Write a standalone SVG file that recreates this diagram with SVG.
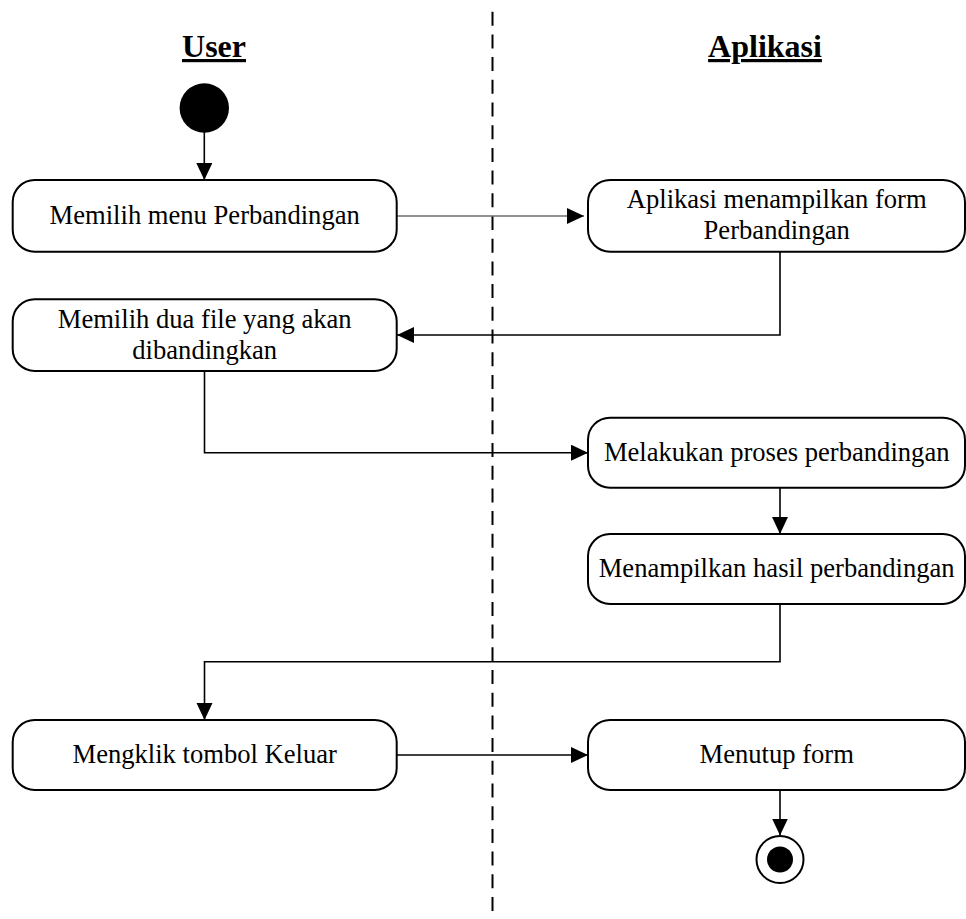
<svg xmlns="http://www.w3.org/2000/svg" width="966" height="919" viewBox="0 0 966 919">
  <style>
    .act { fill: #ffffff; stroke: #000000; stroke-width: 2; }
    .lbl { font-family: "Liberation Serif", "Times New Roman", serif; font-size: 26.6px; fill: #000000; text-anchor: middle; }
    .lane { font-family: "Liberation Serif", "Times New Roman", serif; font-size: 32px; font-weight: bold; fill: #000000; text-anchor: middle; text-decoration: underline; }
    .flow { fill: none; stroke: #000000; stroke-width: 1.6; }
    .flow-grey { fill: none; stroke: #6e6e6e; stroke-width: 1.6; }
    .divider { stroke: #000000; stroke-width: 2; stroke-dasharray: 14 8.7; }
  </style>
  <defs>
    <marker id="arrow" markerUnits="userSpaceOnUse" markerWidth="18" markerHeight="17" refX="17" refY="8" orient="auto">
      <path d="M0,0 L17,8 L0,16 z" fill="#000000"/>
    </marker>
  </defs>

  <rect width="966" height="919" fill="#ffffff"/>

  <!-- swimlane divider -->
  <line class="divider" x1="492.5" y1="11.7" x2="492.5" y2="919"/>

  <!-- swimlane headers -->
  <text class="lane" x="214" y="57">User</text>
  <text class="lane" x="765" y="57">Aplikasi</text>

  <!-- connectors -->
  <g id="connectors">
    <line class="flow" x1="204.3" y1="132" x2="204.3" y2="180" marker-end="url(#arrow)"/>
    <line class="flow-grey" x1="397" y1="216" x2="584" y2="216" marker-end="url(#arrow)"/>
    <polyline class="flow" points="780,252 780,335 397,335" marker-end="url(#arrow)"/>
    <polyline class="flow" points="204.5,371 204.5,452.7 588,452.7" marker-end="url(#arrow)"/>
    <line class="flow" x1="780" y1="488" x2="780" y2="534" marker-end="url(#arrow)"/>
    <polyline class="flow" points="780,604 780,661.7 204.5,661.7 204.5,720" marker-end="url(#arrow)"/>
    <line class="flow" x1="397" y1="755" x2="588" y2="755" marker-end="url(#arrow)"/>
    <line class="flow" x1="780" y1="790" x2="780" y2="835.5" marker-end="url(#arrow)"/>
  </g>

  <!-- initial node -->
  <g id="start">
    <circle cx="204.3" cy="108" r="24.7" fill="#000000"/>
  </g>

  <g id="pilih-menu">
    <rect class="act" x="12.7" y="180" width="384" height="71.7" rx="22" ry="22"/>
    <text class="lbl" x="204.7" y="223.5">Memilih menu Perbandingan</text>
  </g>

  <g id="tampil-form">
    <rect class="act" x="588" y="180" width="377" height="71.7" rx="22" ry="22"/>
    <text class="lbl" x="776.7" y="207.5">Aplikasi menampilkan form</text>
    <text class="lbl" x="776.7" y="238.5">Perbandingan</text>
  </g>

  <g id="pilih-file">
    <rect class="act" x="12.7" y="299.3" width="384" height="71.7" rx="22" ry="22"/>
    <text class="lbl" x="204.7" y="327.7">Memilih dua file yang akan</text>
    <text class="lbl" x="204.7" y="359">dibandingkan</text>
  </g>

  <g id="proses">
    <rect class="act" x="588" y="417.7" width="377" height="70" rx="22" ry="22"/>
    <text class="lbl" x="776.7" y="461">Melakukan proses perbandingan</text>
  </g>

  <g id="hasil">
    <rect class="act" x="588" y="534" width="377" height="70" rx="22" ry="22"/>
    <text class="lbl" x="776.7" y="577">Menampilkan hasil perbandingan</text>
  </g>

  <g id="keluar">
    <rect class="act" x="12.7" y="720" width="384" height="70" rx="22" ry="22"/>
    <text class="lbl" x="204.7" y="763">Mengklik tombol Keluar</text>
  </g>

  <g id="tutup">
    <rect class="act" x="588" y="720" width="377" height="70" rx="22" ry="22"/>
    <text class="lbl" x="776.7" y="763">Menutup form</text>
  </g>

  <!-- final node -->
  <g id="end">
    <circle cx="780" cy="859.5" r="23.5" fill="#ffffff" stroke="#000000" stroke-width="2"/>
    <circle cx="780" cy="859.5" r="13" fill="#000000"/>
  </g>
</svg>
